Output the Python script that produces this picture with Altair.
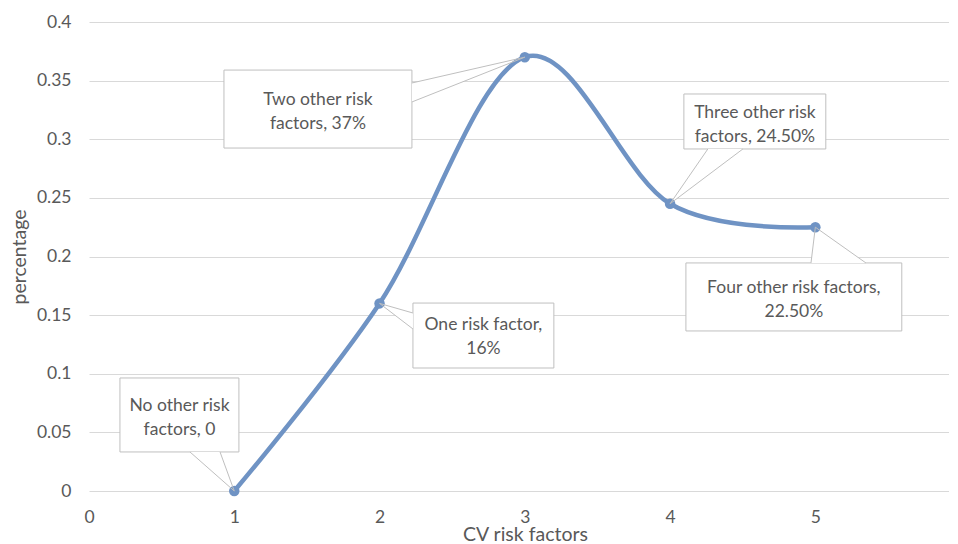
import altair as alt
import pandas as pd

# series
x_vals = [1, 2, 3, 4, 5]
y_vals = [0, 0.16, 0.37, 0.245, 0.225]

# callout texts
labels = [
    "No other risk\nfactors, 0",
    "Two other risk\nfactors, 37%",
    "One risk factor,\n16%",
    "Three other risk\nfactors, 24.50%",
    "Four other risk factors,\n22.50%",
]
point_idx = [0, 2, 1, 3, 4]

# callout boxes (data coordinates)
box_x1 = [0.213, 0.929, 2.230, 4.095, 4.109]
box_x2 = [1.032, 2.223, 3.200, 5.072, 5.595]
box_y1 = [0.0333, 0.2925, 0.1049, 0.2917, 0.1365]
box_y2 = [0.0964, 0.3590, 0.1603, 0.3386, 0.1945]
text_x = [0.623, 1.576, 2.715, 4.584, 4.852]
text_y = [0.0635, 0.324, 0.1318, 0.3134, 0.1638]

# pointer bases: 'v' = base on top/bottom edge (fixed y), 'h' = base on side edge (fixed x)
ptr_kind = ["v", "h", "h", "v", "v"]
ptr_fixed = [0.0333, 2.223, 2.230, 0.2917, 0.1945]
ptr_a = [0.695, 0.348, 0.1518, 4.260, 4.97]
ptr_b = [0.902, 0.3318, 0.1382, 4.501, 5.348]

x_ticks = [0, 1, 2, 3, 4, 5]
y_ticks = [0, 0.05, 0.1, 0.15, 0.2, 0.25, 0.3, 0.35, 0.4]

TXT = "#595959"
GRID = "#d9d9d9"
LINE = "#6f93c4"
BORDER = "#bfbfbf"
FONT = "Lato"
FS = 17.5

series = pd.DataFrame({"x": x_vals, "y": y_vals})
boxes = pd.DataFrame({"x1": box_x1, "x2": box_x2, "y1": box_y1, "y2": box_y2,
                      "tx": text_x, "ty": text_y, "label": labels})

rules, vtri, htri = [], [], []
for i in range(len(labels)):
    ax, ay = x_vals[point_idx[i]], y_vals[point_idx[i]]
    if ptr_kind[i] == "v":
        for b in (ptr_a[i], ptr_b[i]):
            rules.append({"x": b, "y": ptr_fixed[i], "x2": ax, "y2": ay})
        vtri.append({"id": i, "y": ptr_fixed[i], "xa": ptr_a[i], "xb": ptr_b[i]})
        vtri.append({"id": i, "y": ay, "xa": ax, "xb": ax})
    else:
        for b in (ptr_a[i], ptr_b[i]):
            rules.append({"x": ptr_fixed[i], "y": b, "x2": ax, "y2": ay})
        htri.append({"id": i, "x": ptr_fixed[i], "ya": ptr_a[i], "yb": ptr_b[i]})
        htri.append({"id": i, "x": ax, "ya": ay, "yb": ay})
rules = pd.DataFrame(rules)
vtri = pd.DataFrame(vtri)
htri = pd.DataFrame(htri)

xs = alt.Scale(domain=[0, 5.92], nice=False, zero=False)
ys = alt.Scale(domain=[0, 0.4], nice=False)

xaxis = alt.Axis(values=x_ticks, format="d", grid=False, domain=False, ticks=False,
                 labelFlush=False, labelOverlap=False,
                 labelPadding=17, labelFontSize=FS, labelColor=TXT, labelFont=FONT,
                 title="CV risk factors", titleFontSize=19.5, titleFontWeight="normal",
                 titleColor=TXT, titleFont=FONT, titlePadding=0, titleX=436)
yaxis = alt.Axis(values=y_ticks, format=".2~f",
                 grid=True, gridColor=GRID, gridWidth=1, domain=False, ticks=False,
                 labelPadding=18, labelFontSize=FS, labelColor=TXT, labelFont=FONT,
                 title="percentage", titleFontSize=19.5, titleFontWeight="normal",
                 titleColor=TXT, titleFont=FONT, titlePadding=7)

base_axes = alt.Chart(series).mark_point(opacity=0).encode(
    x=alt.X("x:Q", scale=xs, axis=xaxis),
    y=alt.Y("y:Q", scale=ys, axis=yaxis),
)

box_layer = alt.Chart(boxes).mark_rect(fill="white", stroke=BORDER, strokeWidth=1).encode(
    x=alt.X("x1:Q", scale=xs), x2="x2:Q",
    y=alt.Y("y1:Q", scale=ys), y2="y2:Q",
)

vtri_layer = alt.Chart(vtri).mark_area(fill="white", orient="horizontal").encode(
    y=alt.Y("y:Q", scale=ys), x=alt.X("xa:Q", scale=xs), x2="xb:Q", detail="id:N",
)
htri_layer = alt.Chart(htri).mark_area(fill="white", orient="vertical").encode(
    x=alt.X("x:Q", scale=xs), y=alt.Y("ya:Q", scale=ys), y2="yb:Q", detail="id:N",
)

line_layer = alt.Chart(series).mark_line(color=LINE, strokeWidth=4.5, interpolate="cardinal").encode(
    x=alt.X("x:Q", scale=xs), y=alt.Y("y:Q", scale=ys),
)
pt_layer = alt.Chart(series).mark_circle(color=LINE, size=110, opacity=1).encode(
    x=alt.X("x:Q", scale=xs), y=alt.Y("y:Q", scale=ys),
)

rule_layer = alt.Chart(rules).mark_rule(color=BORDER, strokeWidth=1).encode(
    x=alt.X("x:Q", scale=xs), y=alt.Y("y:Q", scale=ys), x2="x2:Q", y2="y2:Q",
)

text_layer = alt.Chart(boxes).mark_text(font=FONT, fontSize=FS, color=TXT, lineBreak="\n",
                                        lineHeight=24, align="center", baseline="middle",
                                        dy=-11).encode(
    x=alt.X("tx:Q", scale=xs), y=alt.Y("ty:Q", scale=ys), text="label:N",
)

chart = alt.layer(base_axes, box_layer, vtri_layer, htri_layer, line_layer, pt_layer,
                  rule_layer, text_layer).properties(
    width=860, height=469,
    autosize=alt.AutoSizeParams(type="none"),
    padding={"left": 81, "top": 14, "right": 0, "bottom": 60},
).configure_view(stroke=None)

chart.save("out.html", embed_options={"renderer": "svg", "actions": False})
